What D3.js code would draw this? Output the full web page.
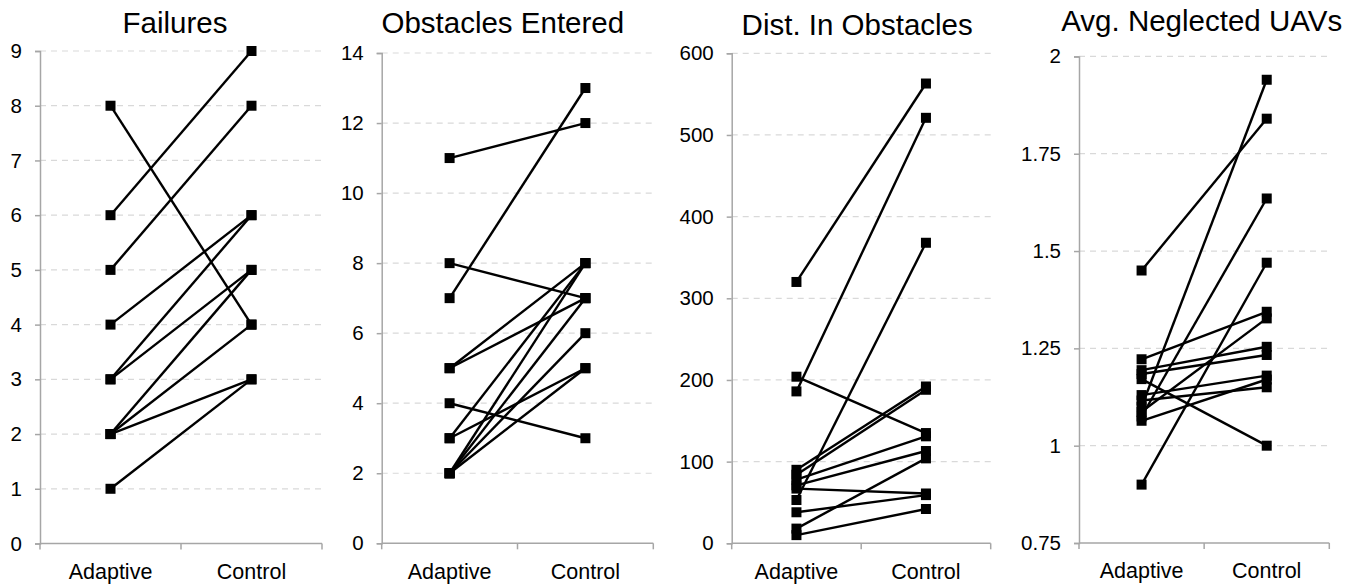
<!DOCTYPE html>
<html>
<head>
<meta charset="utf-8">
<script src="https://cdn.jsdelivr.net/npm/d3@7"></script>
<style>
  html, body { margin: 0; padding: 0; background: #fff; }
  svg { display: block; font-family: "Liberation Sans", Arial, sans-serif; }
</style>
</head>
<body>
<svg id="chart" width="1360" height="585"></svg>
<script>
// ---------- data ----------
const categories = ["Adaptive", "Control"];
const titles = ["Failures", "Obstacles Entered", "Dist. In Obstacles", "Avg. Neglected UAVs"];

const failuresAdaptive = [8, 6, 5, 4, 3, 3, 2, 2, 2, 1];
const failuresControl  = [4, 9, 8, 6, 6, 5, 5, 4, 3, 3];
const failuresTicks = [0, 1, 2, 3, 4, 5, 6, 7, 8, 9];

const obstaclesAdaptive = [11, 8, 7, 5, 5, 4, 3, 3, 2, 2, 2, 2];
const obstaclesControl  = [12, 7, 13, 8, 7, 3, 8, 5, 8, 7, 6, 5];
const obstaclesTicks = [0, 2, 4, 6, 8, 10, 12, 14];

const distAdaptive = [320, 204, 186, 90, 84, 78, 71, 67, 53, 38, 18, 10];
const distControl  = [563, 135, 521, 192, 188, 131, 113, 61, 368, 59, 104, 42];
const distTicks = [0, 100, 200, 300, 400, 500, 600];

const neglectedAdaptive = [1.45, 0.90, 1.222, 1.194, 1.184, 1.171, 1.13, 1.116, 1.10, 1.087, 1.075, 1.064];
const neglectedControl  = [1.84, 1.47, 1.344, 1.254, 1.233, 1.00, 1.18, 1.15, 1.94, 1.327, 1.635, 1.17];
const neglectedTicks = [0.75, 1, 1.25, 1.5, 1.75, 2];

// ---------- layout (positions kept separate from data) ----------
const layout = [
  { x0: 40,    x1: 322,   top: 51,   bottom: 543.5, titleX: 175,    titleY: 33 },
  { x0: 381.7, x1: 653.3, top: 53,   bottom: 543.3, titleX: 502.8,  titleY: 33 },
  { x0: 731.7, x1: 990.7, top: 53.3, bottom: 543.3, titleX: 857.2,  titleY: 35 },
  { x0: 1079,  x1: 1329.3,top: 56.4, bottom: 543,   titleX: 1201.7, titleY: 31 }
];

const panels = [
  { title: titles[0], a: failuresAdaptive,  c: failuresControl,  ticks: failuresTicks },
  { title: titles[1], a: obstaclesAdaptive, c: obstaclesControl, ticks: obstaclesTicks },
  { title: titles[2], a: distAdaptive,      c: distControl,      ticks: distTicks },
  { title: titles[3], a: neglectedAdaptive, c: neglectedControl, ticks: neglectedTicks }
];

const svg = d3.select("#chart");
const axisColor = "#a6a6a6";
const gridColor = "#d9d9d9";
const fmt = v => String(v);

panels.forEach((p, i) => {
  const L = layout[i];
  const g = svg.append("g");

  const x = d3.scaleBand().domain(categories).range([L.x0, L.x1]).padding(0);
  const y = d3.scaleLinear().domain(d3.extent(p.ticks)).range([L.bottom, L.top]);
  const cx = c => x(c) + x.bandwidth() / 2;

  // gridlines
  g.selectAll(".grid").data(p.ticks.filter(t => t !== p.ticks[0])).enter().append("line")
    .attr("x1", L.x0).attr("x2", L.x1)
    .attr("y1", d => y(d)).attr("y2", d => y(d))
    .attr("stroke", gridColor).attr("stroke-width", 1.2)
    .attr("stroke-dasharray", "6,5");

  // y axis
  const yAxis = d3.axisLeft(y).tickValues(p.ticks).tickSize(5).tickPadding(13).tickFormat(fmt);
  const ya = g.append("g").attr("transform", `translate(${L.x0},0)`).call(yAxis);
  ya.select(".domain").attr("stroke", axisColor).attr("stroke-width", 1.5);
  ya.selectAll(".tick line").attr("stroke", axisColor).attr("stroke-width", 1.5);
  ya.selectAll(".tick text").attr("font-size", 20.5).attr("fill", "#000")
    .attr("font-family", "Liberation Sans, Arial, sans-serif");

  // x axis
  const xAxis = d3.axisBottom(x).tickSize(0).tickPadding(20);
  const xa = g.append("g").attr("transform", `translate(0,${L.bottom})`).call(xAxis);
  xa.select(".domain").remove();
  xa.selectAll(".tick text").attr("font-size", 21.5).attr("fill", "#000")
    .attr("font-family", "Liberation Sans, Arial, sans-serif");
  g.append("line").attr("x1", L.x0).attr("x2", L.x1)
    .attr("y1", L.bottom).attr("y2", L.bottom)
    .attr("stroke", axisColor).attr("stroke-width", 1.5);
  const bounds = [L.x0, x(categories[1]), L.x1];
  g.selectAll(".xtick").data(bounds).enter().append("line")
    .attr("x1", d => d).attr("x2", d => d)
    .attr("y1", L.bottom).attr("y2", L.bottom + 6)
    .attr("stroke", axisColor).attr("stroke-width", 1.5);

  // lines
  const pairs = p.a.map((v, k) => [v, p.c[k]]);
  g.selectAll(".pair").data(pairs).enter().append("line")
    .attr("x1", cx(categories[0])).attr("x2", cx(categories[1]))
    .attr("y1", d => y(d[0])).attr("y2", d => y(d[1]))
    .attr("stroke", "#000").attr("stroke-width", 2.4);

  // markers
  const s = 10;
  const pts = [];
  pairs.forEach(d => { pts.push([categories[0], d[0]]); pts.push([categories[1], d[1]]); });
  g.selectAll(".pt").data(pts).enter().append("rect")
    .attr("x", d => cx(d[0]) - s / 2).attr("y", d => y(d[1]) - s / 2)
    .attr("width", s).attr("height", s).attr("fill", "#000");

  // title
  g.append("text").attr("x", L.titleX).attr("y", L.titleY)
    .attr("text-anchor", "middle").attr("font-size", 29.5).attr("fill", "#000")
    .text(p.title);
});
</script>
</body>
</html>
